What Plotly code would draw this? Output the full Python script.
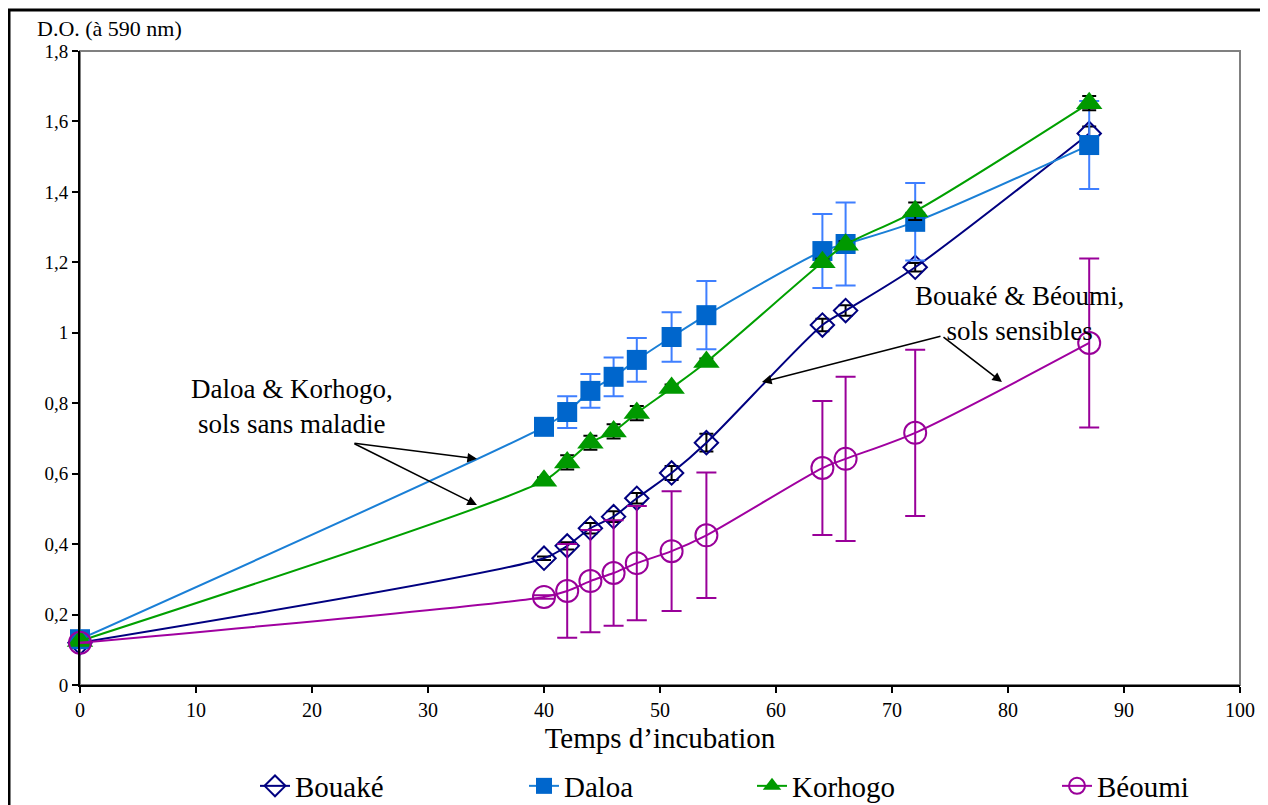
import plotly.graph_objects as go

# ---------------- data ----------------
time_h = [0, 40, 42, 44, 46, 48, 51, 54, 64, 66, 72, 87]

bouake = [0.12, 0.36, 0.395, 0.445, 0.478, 0.53, 0.602, 0.688, 1.022, 1.063, 1.186, 1.566]
bouake_err = [None, 0.005, 0.01, 0.015, 0.015, 0.015, 0.02, 0.025, 0.018, 0.015, 0.012, 0.02]

daloa = [0.13, 0.733, 0.775, 0.835, 0.875, 0.923, 0.988, 1.05, 1.232, 1.252, 1.315, 1.533]
daloa_err = [None, 0.005, 0.045, 0.048, 0.055, 0.062, 0.07, 0.097, 0.105, 0.118, 0.11, 0.125]

korhogo = [0.125, 0.58, 0.632, 0.688, 0.72, 0.772, 0.843, 0.917, 1.2, 1.25, 1.345, 1.652]
korhogo_err = [None, 0.01, 0.02, 0.02, 0.02, 0.02, 0.01, 0.01, 0.01, 0.01, 0.025, 0.02]

beoumi = [0.12, 0.25, 0.267, 0.295, 0.318, 0.346, 0.38, 0.425, 0.616, 0.642, 0.716, 0.971]
beoumi_err = [None, 0.005, 0.133, 0.145, 0.15, 0.162, 0.17, 0.178, 0.19, 0.233, 0.236, 0.24]

x_ticks = [0, 10, 20, 30, 40, 50, 60, 70, 80, 90, 100]
y_tickvals = [0, 0.2, 0.4, 0.6, 0.8, 1.0, 1.2, 1.4, 1.6, 1.8]
y_ticktext = ["0", "0,2", "0,4", "0,6", "0,8", "1", "1,2", "1,4", "1,6", "1,8"]

FONT = "Liberation Serif"

# page pixel -> paper coordinate helpers (plot area: x 80..1240, y 51..685 on the page)
def px(xp):
    return (xp - 80) / 1160


def py(yp):
    return (685 - yp) / 634


fig = go.Figure()

series = [
    dict(name="Bouaké", y=bouake, err=bouake_err, line="#000080", errc="#000000", errw=7,
         marker=dict(symbol="diamond-open", size=18, color="#000080", line=dict(width=2, color="#000080")),
         legend="legend"),
    dict(name="Daloa", y=daloa, err=daloa_err, line="#1a7fd6", errc="#3f7fff", errw=10,
         marker=dict(symbol="square", size=20, color="#0066cc", line=dict(width=0)),
         legend="legend2"),
    dict(name="Korhogo", y=korhogo, err=korhogo_err, line="#00a000", errc="#000000", errw=7,
         marker=dict(symbol="triangle-up", size=23, color="#009900", line=dict(width=0)),
         legend="legend3"),
    dict(name="Béoumi", y=beoumi, err=beoumi_err, line="#a000a0", errc="#990099", errw=10,
         marker=dict(symbol="circle-open", size=22, color="#990099", line=dict(width=2, color="#990099")),
         legend="legend4"),
]

for s in series:
    fig.add_trace(go.Scatter(
        x=time_h, y=s["y"], name=s["name"], mode="lines+markers",
        line=dict(color=s["line"], width=2, shape="spline", smoothing=0.8),
        marker=s["marker"],
        error_y=dict(type="data", array=s["err"], visible=True, color=s["errc"],
                     thickness=2, width=s["errw"]),
        cliponaxis=False,
        legend=s["legend"],
    ))

# plot-area gray frame (top/right)
fig.add_shape(type="rect", xref="paper", yref="paper", x0=0, y0=0, x1=1, y1=1,
              line=dict(color="#808080", width=2), layer="below")
# outer black border (extends past right/bottom of the picture)
fig.add_shape(type="rect", xref="paper", yref="paper", x0=px(9), y0=py(830), x1=px(1290), y1=py(10),
              line=dict(color="#000000", width=3), layer="below")

arrow = dict(showarrow=True, arrowhead=2, arrowsize=1.2, arrowwidth=1.6, arrowcolor="#000000",
             text="", axref="x", ayref="y", xref="x", yref="y")

fig.add_annotation(x=34.22, y=0.642, ax=23.53, ay=0.687, **arrow)
fig.add_annotation(x=34.22, y=0.511, ax=23.53, ay=0.687, **arrow)
fig.add_annotation(x=58.79, y=0.860, ax=74.31, ay=0.991, **arrow)
fig.add_annotation(x=79.48, y=0.860, ax=74.31, ay=0.991, **arrow)

fig.add_annotation(x=18.3, y=0.792, xref="x", yref="y", showarrow=False,
                   text="Daloa & Korhogo,<br>sols sans maladie",
                   font=dict(family=FONT, size=27, color="#000000"), align="center")
fig.add_annotation(x=81.0, y=1.056, xref="x", yref="y", showarrow=False,
                   text="Bouaké & Béoumi,<br>sols sensibles",
                   font=dict(family=FONT, size=27, color="#000000"), align="center")

fig.add_annotation(x=px(35), y=py(29), xref="paper", yref="paper", showarrow=False,
                   text="D.O. (à 590 nm)", font=dict(family=FONT, size=22, color="#000000"),
                   xanchor="left", yanchor="middle")

leg_common = dict(orientation="h", yanchor="middle", y=py(786), xanchor="left",
                  font=dict(family=FONT, size=29, color="#000000"), bgcolor="rgba(0,0,0,0)")

fig.update_layout(
    width=1260, height=797,
    margin=dict(l=72, r=28, t=43, b=120, autoexpand=False),
    paper_bgcolor="white", plot_bgcolor="white",
    font=dict(family=FONT, color="#000000"),
    showlegend=True,
    legend=dict(x=px(255), **leg_common),
    legend2=dict(x=px(524), **leg_common),
    legend3=dict(x=px(752), **leg_common),
    legend4=dict(x=px(1057), **leg_common),
    xaxis=dict(range=[0, 100], tickvals=x_ticks, ticks="outside", ticklen=6, tickwidth=2,
               tickcolor="#000000", showline=True, linecolor="#000000", linewidth=2,
               showgrid=False, zeroline=False,
               tickfont=dict(family=FONT, size=20, color="#000000"),
               title=dict(text="Temps d’incubation", standoff=8,
                          font=dict(family=FONT, size=29, color="#000000"))),
    yaxis=dict(range=[0, 1.8], tickvals=y_tickvals, ticktext=y_ticktext, ticks="outside",
               ticklen=6, tickwidth=2, tickcolor="#000000", showline=True,
               linecolor="#000000", linewidth=2, showgrid=False, zeroline=False,
               tickfont=dict(family=FONT, size=19, color="#000000")),
)

fig.write_html("out.html")
